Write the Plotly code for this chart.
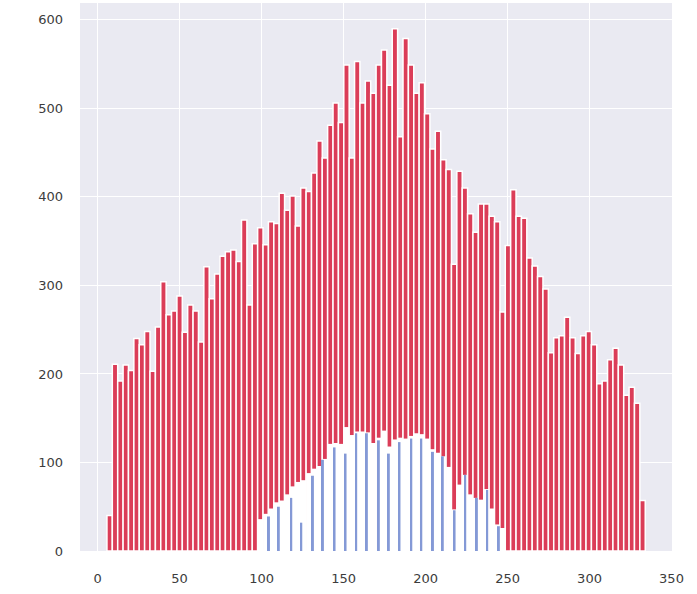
import plotly.graph_objects as go

# Red histogram: 100 equal bins
red_bin_start = 5.68
red_bin_width = 3.283
red_counts = [40, 211, 192, 210, 204, 240, 233, 248, 203, 253,
              304, 267, 271, 288, 247, 278, 271, 236, 321, 285,
              313, 333, 338, 340, 327, 374, 278, 347, 365, 346,
              372, 370, 404, 385, 401, 367, 410, 406, 427, 463,
              444, 481, 506, 484, 549, 444, 553, 506, 531, 517,
              549, 566, 526, 590, 468, 579, 549, 517, 529, 494,
              454, 474, 442, 431, 324, 429, 410, 381, 360, 392,
              392, 378, 372, 270, 345, 408, 378, 376, 331, 322,
              310, 296, 224, 241, 243, 264, 241, 223, 243, 248,
              233, 189, 192, 216, 229, 210, 176, 185, 167, 57]

# White envelope covering red bins 28..73
white_first_bin = 28
white_counts = [36, 42, 48, 55, 57, 64, 73, 78, 80, 88,
                93, 96, 104, 121, 122, 121, 140, 131, 135, 135,
                134, 122, 128, 136, 118, 126, 128, 127, 130, 133,
                132, 127, 115, 111, 107, 95, 47, 75, 86, 64,
                60, 58, 70, 48, 30, 26]

# Blue histogram bars
blue_x = [104.5, 110.5, 118.1, 124.2, 131.3, 137.4, 144.5, 151.2, 157.7, 164.2,
          171.5, 177.6, 184.1, 191.3, 197.4, 204.5, 210.5, 217.7, 224.2, 231.3,
          237.6, 244.7]
blue_counts = [39, 50, 60, 32, 85, 103, 117, 110, 133, 133,
               125, 110, 123, 127, 127, 112, 107, 46, 86, 60,
               69, 28]

x_ticks = [0, 50, 100, 150, 200, 250, 300, 350]
y_ticks = [0, 100, 200, 300, 400, 500, 600]

red_x = [red_bin_start + red_bin_width * (i + 0.5) for i in range(len(red_counts))]
white_x = red_x[white_first_bin:white_first_bin + len(white_counts)]

fig = go.Figure()
fig.add_trace(go.Bar(x=red_x, y=red_counts, width=red_bin_width,
                     marker=dict(color="#db3d58", line=dict(color="white", width=1.5))))
fig.add_trace(go.Bar(x=white_x, y=white_counts, width=red_bin_width,
                     marker=dict(color="white", line=dict(color="white", width=0))))
fig.add_trace(go.Bar(x=blue_x, y=blue_counts, width=1.2,
                     marker=dict(color="#8499d6", line=dict(width=0))))

fig.update_layout(
    width=697, height=594,
    barmode="overlay",
    showlegend=False,
    paper_bgcolor="white",
    plot_bgcolor="#EAEAF2",
    margin=dict(l=80, r=25, t=3, b=43),
    font=dict(family="DejaVu Sans", size=13, color="#3c3c3c"),
)
fig.update_xaxes(range=[-10.75, 350.3], tickvals=x_ticks, ticktext=[str(v) for v in x_ticks],
                 showgrid=True, gridcolor="white", gridwidth=1.3, zeroline=False,
                 showline=False, ticks="", ticklabelstandoff=18, automargin=False)
fig.update_yaxes(range=[0, 619], tickvals=y_ticks, ticktext=[str(v) for v in y_ticks],
                 showgrid=True, gridcolor="white", gridwidth=1.3, zeroline=False,
                 showline=False, ticks="", ticklabelstandoff=16, automargin=False)

fig.write_html("out.html", config={"displayModeBar": False},
               post_script="document.body.style.margin='0';")
